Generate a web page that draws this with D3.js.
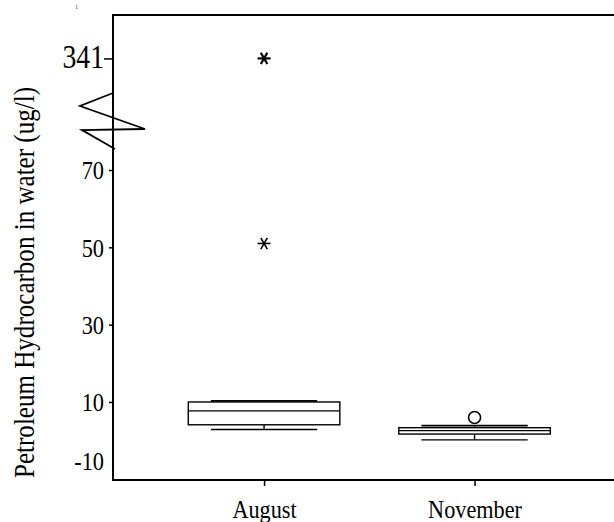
<html>
<head>
<meta charset="utf-8">
<script src="https://d3js.org/d3.v7.min.js"></script>
<style>
body { margin: 0; background: #fff; overflow: hidden; }
svg { display: block; }
text { font-family: 'Liberation Serif', 'Times New Roman', serif; fill: #000; }
</style>
</head>
<body>
<div id="plot"></div>
<script>
// box plot values
var categories = ["August", "November"];
var lowWhisker = [2.9, 0.2];
var q1 = [4.1, 1.7];
var median = [7.7, 2.6];
var q3 = [10.0, 3.35];
var highWhisker = [10.3, 3.9];

var outlierCategory = ["August", "August", "November"];
var outlierValue = [341, 51, 6];
var outlierSymbol = ["star", "star", "circle"];

var lowTicks = [70, 50, 30, 10, -10];
var highTicks = [341];
var yLabel = "Petroleum Hydrocarbon in water (ug/l)";

var width = 614, height = 522;
var plotLeft = 113, plotRight = 614, plotTop = 15, plotBottom = 480;

var svg = d3.select("#plot").append("svg")
.attr("width", width).attr("height", height);

var xScale = d3.scalePoint().domain(categories).range([plotLeft, plotRight]).padding(0.69).align(0.52);
var step = xScale.step();

// broken axis: lower part linear, upper part holds the big outlier
var yLow = d3.scaleLinear().domain([-10, 70]).range([479.3, 170]);
var yHigh = d3.scaleLinear().domain([330, 350]).range([101, 23.6]);
function y(v) { return v > 100 ? yHigh(v) : yLow(v); }

// squeeze text a bit, the original font is narrower
function squeeze(sel, k) {
	sel.each(function () {
		var w = this.getComputedTextLength();
		d3.select(this).attr("textLength", w * k).attr("lengthAdjust", "spacingAndGlyphs");
	});
}

// frame lines
svg.append("line").attr("x1", plotLeft).attr("y1", plotTop).attr("x2", plotLeft).attr("y2", plotBottom)
.style("stroke", "#000").style("stroke-width", 2);
svg.append("line").attr("x1", plotLeft - 1).attr("y1", plotTop).attr("x2", plotRight).attr("y2", plotTop)
.style("stroke", "#000").style("stroke-width", 2);
svg.append("line").attr("x1", plotLeft - 1).attr("y1", plotBottom).attr("x2", plotRight).attr("y2", plotBottom)
.style("stroke", "#000").style("stroke-width", 2);

svg.append("text").attr("x", 75).attr("y", 9).style("font-size", "6px").style("fill", "#444").text("1");

// y axes
var fmt = function (d) { return String(d); };
var yAxisLow = d3.axisLeft(yLow).tickValues(lowTicks).tickFormat(fmt).tickSize(4).tickSizeOuter(0).tickPadding(5);
var gLow = svg.append("g").attr("transform", "translate(" + plotLeft + ",0)").call(yAxisLow);
var yAxisHigh = d3.axisLeft(yHigh).tickValues(highTicks).tickFormat(fmt).tickSize(9).tickSizeOuter(0).tickPadding(0);
var gHigh = svg.append("g").attr("transform", "translate(" + plotLeft + ",0)").call(yAxisHigh);

[gLow, gHigh].forEach(function (g) {
	g.select(".domain").remove();
	g.selectAll("line").style("stroke", "#000").style("stroke-width", 1.5);
	g.selectAll("text").attr("dy", "0.34em");
});
gLow.selectAll("text").style("font-size", "26px");
gHigh.selectAll("text").style("font-size", "33px").attr("dy", "0.28em");
// -10 sits on the bottom line: no tick, label lifted
gLow.selectAll(".tick").filter(function (d) { return d === -10; })
.call(function (t) { t.select("line").remove(); t.select("text").attr("dy", "-0.36em"); });
squeeze(gLow.selectAll("text"), 0.86);
squeeze(gHigh.selectAll("text"), 0.84);

// axis break zigzag
var breakDx = [0, -33, 32, -31, 2];
var breakDy = [-77, -64, -41, -40, -21];
svg.append("path")
.attr("d", d3.line()(breakDx.map(function (dx, i) { return [plotLeft + dx, yLow(70) + breakDy[i]]; })))
.style("fill", "none").style("stroke", "#000").style("stroke-width", 1.8);

svg.append("text")
.attr("transform", "translate(34," + ((87 + 478) / 2) + ") rotate(-90)")
.attr("text-anchor", "middle")
.style("font-size", "30px")
.attr("textLength", 391).attr("lengthAdjust", "spacingAndGlyphs")
.text(yLabel);

// x axis ticks and labels
var xAxis = d3.axisBottom(xScale).tickSize(6).tickSizeOuter(0).tickPadding(14);
var gx = svg.append("g").attr("transform", "translate(0," + plotBottom + ")").call(xAxis);
gx.select(".domain").remove();
gx.selectAll("line").style("stroke", "#000").style("stroke-width", 1.5);
gx.selectAll("text").attr("dy", "0.71em").style("font-size", "25px");
squeeze(gx.selectAll("text"), 0.89);

// boxes
var boxW = step * 0.72, capW = step * 0.505;
var boxes = categories.map(function (c, i) {
	return { cat: c, lo: lowWhisker[i], q1: q1[i], med: median[i], q3: q3[i], hi: highWhisker[i] };
});

var gb = svg.selectAll("g.box").data(boxes).enter().append("g").attr("class", "box")
.style("stroke", "#000").style("fill", "none").style("stroke-width", 1.4);

gb.append("line").attr("x1", function (d) { return xScale(d.cat); }).attr("x2", function (d) { return xScale(d.cat); })
.attr("y1", function (d) { return y(d.hi); }).attr("y2", function (d) { return y(d.q3); });
gb.append("line").attr("x1", function (d) { return xScale(d.cat); }).attr("x2", function (d) { return xScale(d.cat); })
.attr("y1", function (d) { return y(d.q1); }).attr("y2", function (d) { return y(d.lo); });
gb.append("line").attr("x1", function (d) { return xScale(d.cat) - capW / 2; }).attr("x2", function (d) { return xScale(d.cat) + capW / 2; })
.attr("y1", function (d) { return y(d.hi); }).attr("y2", function (d) { return y(d.hi); })
.style("stroke-width", 1.8);
gb.append("line").attr("x1", function (d) { return xScale(d.cat) - capW / 2; }).attr("x2", function (d) { return xScale(d.cat) + capW / 2; })
.attr("y1", function (d) { return y(d.lo); }).attr("y2", function (d) { return y(d.lo); });
gb.append("rect")
.attr("x", function (d) { return xScale(d.cat) - boxW / 2; })
.attr("width", boxW)
.attr("y", function (d) { return y(d.q3); })
.attr("height", function (d) { return y(d.q1) - y(d.q3); })
.style("fill", "#fff");
gb.append("line").attr("x1", function (d) { return xScale(d.cat) - boxW / 2; }).attr("x2", function (d) { return xScale(d.cat) + boxW / 2; })
.attr("y1", function (d) { return y(d.med); }).attr("y2", function (d) { return y(d.med); });

// outliers
var outliers = outlierValue.map(function (v, i) {
	return { cat: outlierCategory[i], value: v, symbol: outlierSymbol[i] };
});

var starArm = 6.5;
outliers.forEach(function (d) {
	var cx = xScale(d.cat), cy = y(d.value);
	if (d.symbol === "circle") {
		svg.append("circle").attr("cx", cx).attr("cy", cy).attr("r", 6)
		.style("fill", "#fff").style("stroke", "#000").style("stroke-width", 1.6);
	} else {
		var g = svg.append("g").attr("transform", "translate(" + cx + "," + cy + ")");
		[0, 60, 120].forEach(function (a) {
			g.append("line").attr("x1", -starArm).attr("x2", starArm).attr("y1", 0).attr("y2", 0)
			.attr("transform", "rotate(" + a + ")")
			.style("stroke", "#000").style("stroke-width", d.value > 100 ? 2.2 : 1.6);
		});
	}
});
</script>
</body>
</html>
